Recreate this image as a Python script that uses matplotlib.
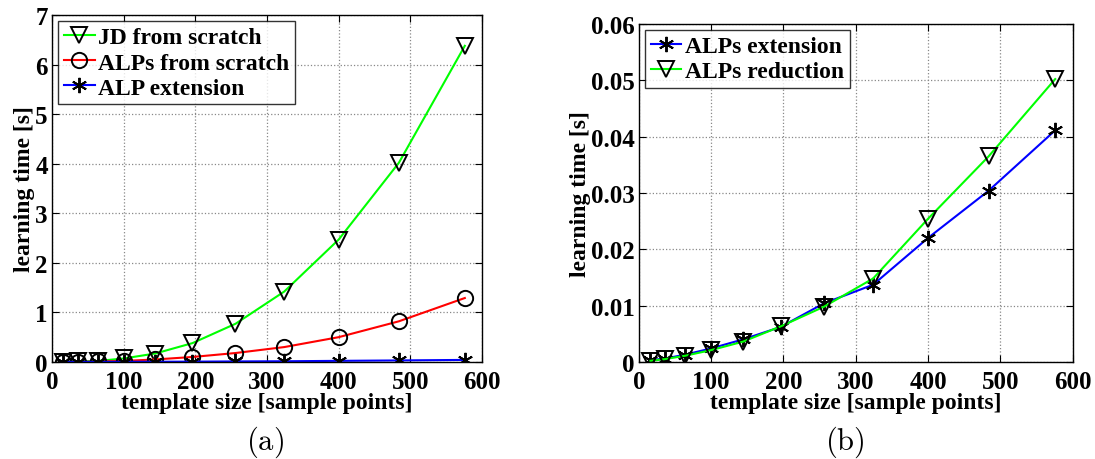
import numpy as np
import matplotlib.pyplot as plt

# template sizes (sample points)
x = [16, 36, 64, 100, 144, 196, 256, 324, 400, 484, 576]

# (a) learning time [s]
jd_scratch = [0.0, 0.01, 0.02, 0.07, 0.17, 0.38, 0.77, 1.42, 2.47, 4.02, 6.38]
alps_scratch = [0.0, 0.0, 0.01, 0.02, 0.05, 0.10, 0.18, 0.30, 0.50, 0.82, 1.29]
alp_ext = [0.0003, 0.0006, 0.0013, 0.0024, 0.004, 0.0062, 0.0104, 0.0137, 0.022, 0.0304, 0.0411]

# (b) learning time [s]
alps_ext = [0.0003, 0.0006, 0.0013, 0.0024, 0.0040, 0.0062, 0.0104, 0.0137, 0.0220, 0.0304, 0.0411]
alps_red = [0.0002, 0.0005, 0.0011, 0.0021, 0.0036, 0.0063, 0.0098, 0.0148, 0.0254, 0.0365, 0.0502]

plt.rcParams['font.family'] = 'Liberation Serif'
plt.rcParams['font.weight'] = 'bold'
plt.rcParams['mathtext.fontset'] = 'cm'

fig = plt.figure(figsize=(10.95, 4.6), dpi=100)
ax1 = fig.add_axes([0.0475, 0.211, 0.3927, 0.754])
ax2 = fig.add_axes([0.5835, 0.211, 0.396, 0.735])

asterisk = (6, 2, 0)
mk = dict(markersize=11, markerfacecolor='none', markeredgecolor='black', markeredgewidth=1.4)

ax1.plot(x, jd_scratch, color=(0, 1, 0), lw=1.5, marker='v', label='JD from scratch', **mk)
ax1.plot(x, alps_scratch, color='red', lw=1.5, marker='o', label='ALPs from scratch', **mk)
ax1.plot(x, alp_ext, color='blue', lw=1.5, marker=asterisk, label='ALP extension', **mk)
ax1.set_ylim(0, 7)
ax1.set_yticks(range(0, 8))

ax2.plot(x, alps_ext, color='blue', lw=1.5, marker=asterisk, label='ALPs extension', **mk)
ax2.plot(x, alps_red, color=(0, 1, 0), lw=1.5, marker='v', label='ALPs reduction', **mk)
ax2.set_ylim(0, 0.06)
ax2.set_yticks([0, 0.01, 0.02, 0.03, 0.04, 0.05, 0.06])
ax2.set_yticklabels(['0', '0.01', '0.02', '0.03', '0.04', '0.05', '0.06'])

for ax in (ax1, ax2):
    ax.set_xlim(0, 600)
    ax.set_xticks(range(0, 700, 100))
    ax.grid(True, linestyle=':', color='#888888', lw=0.9)
    ax.tick_params(direction='in', top=True, right=True, labelsize=18, length=5)
    ax.tick_params(axis='x', pad=6)
    ax.tick_params(axis='y', pad=3)
    for lab in ax.get_xticklabels() + ax.get_yticklabels():
        lab.set_fontweight('bold')
    for s in ax.spines.values():
        s.set_linewidth(1.0)
    ax.set_xlabel('template size [sample points]', fontsize=17, fontweight='bold', labelpad=-1)
    ax.set_ylabel('learning time [s]', fontsize=17, fontweight='bold', labelpad=0)
    leg = ax.legend(loc='upper left', fontsize=17, frameon=True, fancybox=False,
                    edgecolor='black', handlelength=1.3, handletextpad=0.15,
                    borderaxespad=0.25, borderpad=0.25, labelspacing=0.15)
    leg.get_frame().set_linewidth(1.0)
    for t in leg.get_texts():
        t.set_fontweight('bold')

fig.text(0.242, 0.038, r'$\mathrm{(a)}$', fontsize=22, ha='center', va='center')
fig.text(0.772, 0.038, r'$\mathrm{(b)}$', fontsize=22, ha='center', va='center')

fig.savefig('out.png', dpi=100)
